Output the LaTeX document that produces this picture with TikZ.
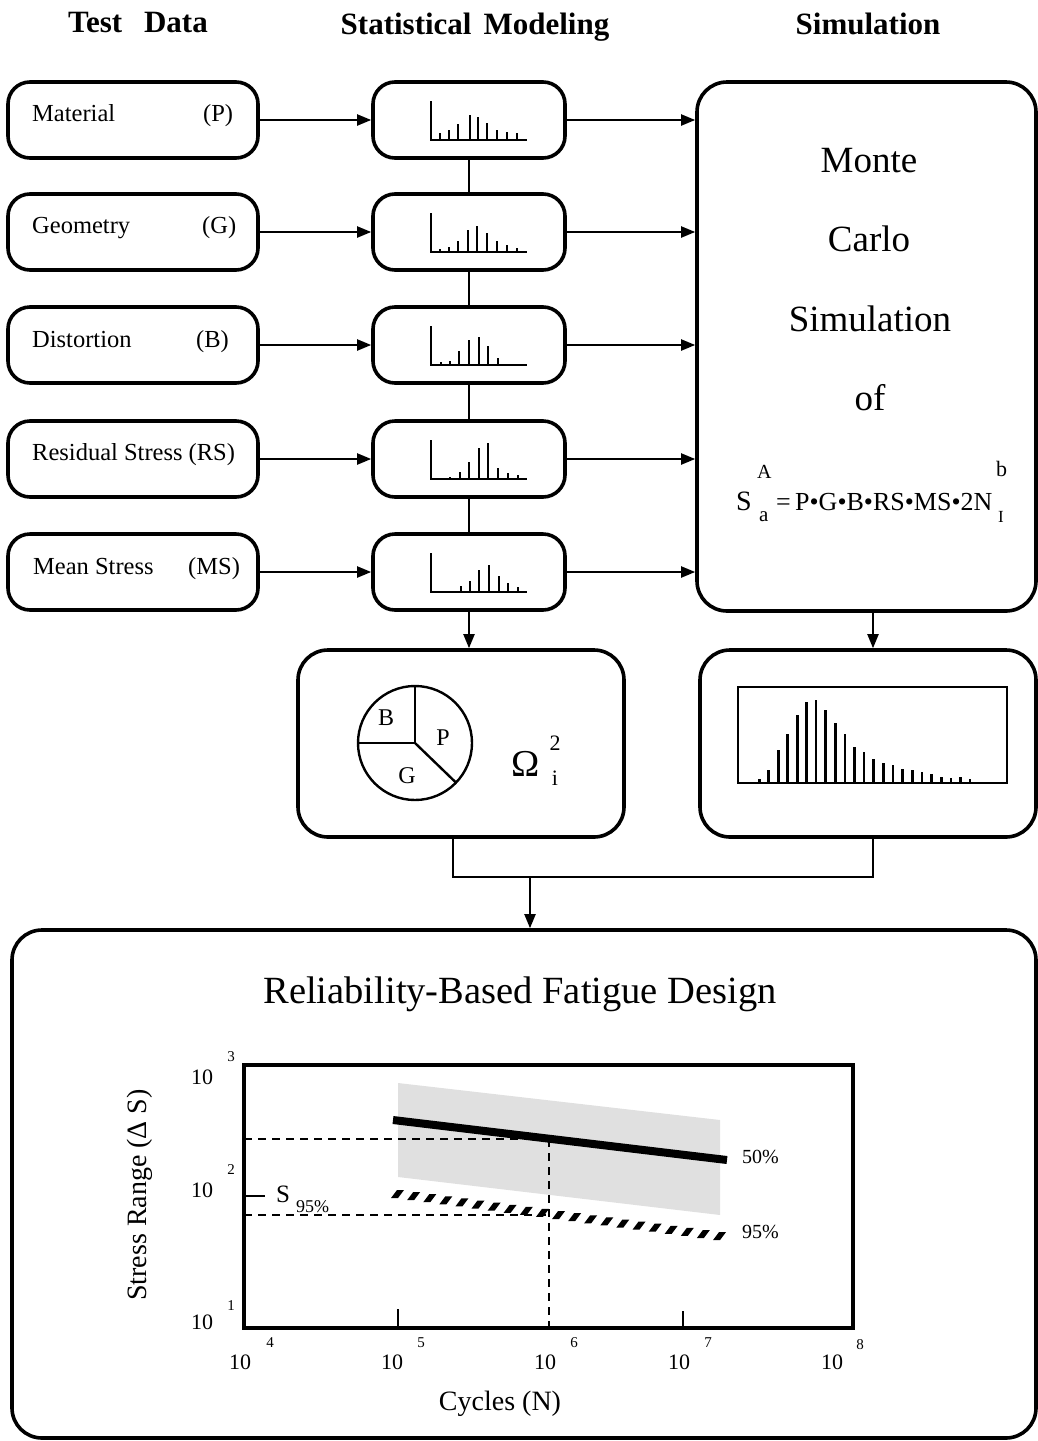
\documentclass[tikz,border=0pt]{standalone}
\usepackage{fontspec}
\setmainfont{Liberation Serif}
\usetikzlibrary{arrows.meta,calc}
\newcommand{\myfs}[1]{\fontsize{#1}{#1}\selectfont}
\begin{document}
\begin{tikzpicture}[x=1pt,y=-1pt,
  box/.style={draw,line width=3.6pt,rounded corners=22pt,inner sep=0pt},
  leftbox/.style={box,minimum width=250pt,minimum height=76pt},
  histbox/.style={box,minimum width=192pt,minimum height=76pt},
  bigbox/.style={box,rounded corners=30pt},
  conn/.style={line width=2pt},
  arr/.style={conn,-{Triangle[length=14pt,width=11pt]}},
  txt/.style={inner sep=0pt,anchor=base west,font=\myfs{24.5}},
  hdr/.style={inner sep=0pt,anchor=base,font=\bfseries\myfs{31}},
  big/.style={inner sep=0pt,anchor=base,font=\myfs{37}},
  lab/.style={inner sep=0pt,anchor=center,font=\myfs{22}},
  sup/.style={inner sep=0pt,anchor=center,font=\myfs{15}},
  axisln/.style={line width=2.4pt},
  bar/.style={line width=2.4pt},
  dashln/.style={line width=2.2pt,dash pattern=on 8pt off 6pt}
]
\useasboundingbox (0,0) rectangle (1037,1441);

% headers
\node[hdr] (hd1) at (138,32) {Test\hspace{22pt}Data};
\node[hdr] (hd2) at (475,34) {Statistical\hspace{12pt}Modeling};
\node[hdr] (hd3) at (868,34) {Simulation};

% left boxes
\node[leftbox] (l1) at (133,120) {};
\node[leftbox] (l2) at (133,232) {};
\node[leftbox] (l3) at (133,345) {};
\node[leftbox] (l4) at (133,459) {};
\node[leftbox] (l5) at (133,572) {};
\node[txt] (t1) at (32,121) {Material};
\node[txt] (p1) at (203,121) {(P)};
\node[txt] (t2) at (32,233) {Geometry};
\node[txt] (p2) at (202,233) {(G)};
\node[txt] (t3) at (32,347) {Distortion};
\node[txt] (p3) at (196,347) {(B)};
\node[txt] (t4) at (32,460) {Residual Stress (RS)};
\node[txt] (t5) at (33,574) {Mean Stress};
\node[txt] (p5) at (188,574) {(MS)};

% middle boxes
\node[histbox] (h1) at (469,120) {};
\node[histbox] (h2) at (469,232) {};
\node[histbox] (h3) at (469,345) {};
\node[histbox] (h4) at (469,459) {};
\node[histbox] (h5) at (469,572) {};

% histogram icons
\foreach \b/\bars in {
  h1/{9/6.7,18/10,27/16,39/25,47/23.3,56/17.3,66/10,76/8.3,86/6.7},
  h2/{9/3,18/5,27/11,37/22,46/26,56/19,66/11,76/7,86/4},
  h3/{10/2.7,19/4,28/14,38/25,48/28,57/19,67/6.7},
  h4/{19/2.3,29/7.3,38/17.3,48/30.7,57/36.3,67/10.7,77/6.3,87/4},
  h5/{30/5.7,39/11,48/21.7,58/27.4,68/15.7,77/9,87/5}}{
  \coordinate (o\b) at ($(\b.center)+(-38,20)$);
  \draw[axisln] ($(o\b)+(0,-39)$) -- (o\b) -- ($(o\b)+(96,0)$);
  \foreach \dx/\h in \bars {
    \draw[bar] ($(o\b)+(\dx,0)$) -- ++(0,-\h);
  }
}

% vertical links between middle boxes
\draw[conn] (h1.south) -- (h2.north);
\draw[conn] (h2.south) -- (h3.north);
\draw[conn] (h3.south) -- (h4.north);
\draw[conn] (h4.south) -- (h5.north);

% Monte Carlo box
\node[bigbox,minimum width=339pt,minimum height=529pt] (mc) at (866.5,346.5) {};
\node[big] (m1) at (869,172) {Monte};
\node[big] (m2) at (869,251) {Carlo};
\node[big] (m3) at (870,331) {Simulation};
\node[big] (m4) at (870,410) {of};
\node[inner sep=0pt,anchor=base west,font=\myfs{28}] (fS) at (736,510) {S};
\node[inner sep=0pt,anchor=base west,font=\myfs{20}] (fA) at (757,478) {A};
\node[inner sep=0pt,anchor=base west,font=\myfs{21}] (fa) at (759,521) {a};
\node[inner sep=0pt,anchor=base west,font=\myfs{26}] (fr) at (776,510) {=\,P•G•B•RS•MS•2N};
\node[inner sep=0pt,anchor=base west,font=\myfs{22}] (fb) at (996,476) {b};
\node[inner sep=0pt,anchor=base west,font=\myfs{17}] (fI) at (998,522) {I};

% arrows left -> middle -> right
\foreach \i in {1,...,5}{
  \draw[arr] (l\i.east) -- (h\i.west);
  \draw[arr] (h\i.east) -- (h\i.east -| mc.west);
}

% pie box
\node[bigbox,minimum width=326pt,minimum height=187pt] (pie) at (461,743.5) {};
\coordinate (pc) at (415,743);
\draw[line width=2.4pt] (pc) circle (57);
\draw[line width=2.4pt] (415,686) -- (pc) -- (358,743);
\draw[line width=2.4pt] (pc) -- ($(pc)+(44:57)$);
\node[lab,font=\myfs{24}] (pB) at (386,718) {B};
\node[lab,font=\myfs{24}] (pP) at (443,738) {P};
\node[lab,font=\myfs{24}] (pG) at (407,776) {G};
\node[lab,font=\myfs{38}] (om) at (526,764) {Ω};
\node[lab,font=\myfs{22}] (om2) at (555,743) {2};
\node[lab,font=\myfs{22}] (omi) at (555,778) {i};

% histogram box
\node[bigbox,minimum width=336pt,minimum height=187pt] (hist) at (868,743.5) {};
\draw[line width=2.2pt] (737.7,686.7) rectangle (1006.7,783);
\foreach \x/\t in {759.3/779,768.7/770,778.3/750,787.3/734,797.3/715,806.7/701.7,816/700,825.7/710,835.3/722.7,845/734,854.3/746.7,864/752.3,873.7/758.7,883.3/763.3,893/765.3,902.7/769.3,912.3/770,922/772,931.7/774.3,941.3/776.7,951/778,960.7/777.3,970/779.3}{
  \draw[line width=2.6pt] (\x,782) -- (\x,\t);
}

% down arrows
\draw[arr] (h5.south) -- (h5.south |- pie.north);
\coordinate (rd) at (873,611);
\draw[arr] (rd) -- (rd |- hist.north);

% join
\coordinate (j1) at (453,877);
\coordinate (j2) at (873,877);
\coordinate (j3) at (530,877);
\draw[conn] (pie.south -| j1) -- (j1) -- (j2) -- (hist.south -| j2);

% design box
\node[bigbox,minimum width=1024pt,minimum height=508pt] (des) at (524,1184) {};
\draw[arr] (j3) -- (j3 |- des.north);
\node[inner sep=0pt,anchor=base,font=\myfs{38.5}] (dt) at (520,1003) {Reliability-Based Fatigue Design};

% plot
\fill[black!12] (398,1083) -- (720,1120) -- (720,1215) -- (398,1177) -- cycle;
\draw[line width=8pt] (393,1120) -- (727,1160);
\foreach \i in {0,...,20}{
  \pgfmathsetmacro\xx{397+\i*16.1}
  \pgfmathsetmacro\yy{1193.5+(\xx-393)*0.1307}
  \fill ({\xx-6},{\yy+4}) -- ({\xx+1},{\yy+4}) -- ({\xx+7},{\yy-4}) -- ({\xx},{\yy-4}) -- cycle;
}
\draw[dashln] (244,1139) -- (549,1139);
\draw[dashln] (244,1215) -- (549,1215);
\draw[dashln] (549,1139) -- (549,1328);
\draw[line width=3.6pt] (244,1065) rectangle (853,1328);
\draw[line width=2.4pt] (398,1328) -- (398,1309);
\draw[line width=2.4pt] (683,1328) -- (683,1311);
\draw[line width=2.2pt] (244,1196) -- (265,1196);
\node[inner sep=0pt,anchor=base west,font=\myfs{25}] (s95) at (276,1202) {S};
\node[inner sep=0pt,anchor=base west,font=\myfs{18}] (s95b) at (296,1212) {95\%};
\node[inner sep=0pt,anchor=base west,font=\myfs{20}] (l50) at (742,1163) {50\%};
\node[inner sep=0pt,anchor=base west,font=\myfs{20}] (l95) at (742,1238) {95\%};

% y labels
\node[lab] (y3) at (202,1077) {10};
\node[sup] (y3s) at (231,1057) {3};
\node[lab] (y2) at (202,1190) {10};
\node[sup] (y2s) at (231,1170) {2};
\node[lab] (y1) at (202,1322) {10};
\node[sup] (y1s) at (231,1306) {1};
% x labels
\node[lab] (x4) at (240,1362) {10};
\node[sup] (x4s) at (270,1343) {4};
\node[lab] (x5) at (392,1362) {10};
\node[sup] (x5s) at (421,1343) {5};
\node[lab] (x6) at (545,1362) {10};
\node[sup] (x6s) at (574,1343) {6};
\node[lab] (x7) at (679,1362) {10};
\node[sup] (x7s) at (708,1343) {7};
\node[lab] (x8) at (832,1362) {10};
\node[sup] (x8s) at (860,1345) {8};

\node[inner sep=0pt,anchor=center,rotate=90,font=\myfs{28}] (ya) at (140,1195) {Stress Range (Δ S)};
\node[inner sep=0pt,anchor=center,font=\myfs{28}] (xa) at (500,1404) {Cycles (N)};
\end{tikzpicture}
\end{document}
